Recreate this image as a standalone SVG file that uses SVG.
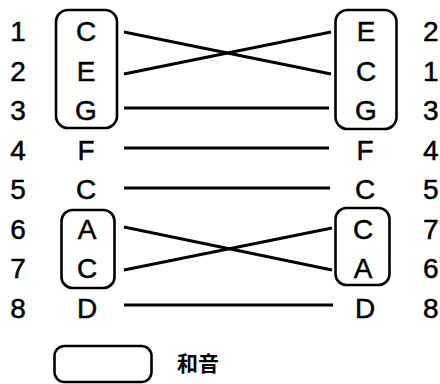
<svg xmlns="http://www.w3.org/2000/svg" width="440" height="384" viewBox="0 0 440 384">
  <style>
    .note { font-family: "Liberation Sans", Arial, sans-serif; font-size: 28px; fill: #000; stroke: #000; stroke-width: 0.5; text-anchor: middle; }
    .num { font-family: "Liberation Sans", Arial, sans-serif; font-size: 28px; fill: #000; stroke: #000; stroke-width: 0.5; }
    .chord { fill: none; stroke: #000; stroke-width: 2.6; }
    .link { stroke: #000; stroke-width: 3; stroke-linecap: butt; fill: none; }
    .legend { font-family: "Noto Sans CJK JP", "Noto Sans CJK SC", sans-serif; font-size: 21px; font-weight: bold; fill: #000; }
  </style>
  <rect width="440" height="384" fill="#fff"/>

  <!-- position numbers, left side -->
  <g id="numbers-left" class="num" text-anchor="middle">
    <text x="18" y="41">1</text>
    <text x="18" y="80.5">2</text>
    <text x="18" y="120">3</text>
    <text x="18" y="159.5">4</text>
    <text x="18" y="199">5</text>
    <text x="18" y="238.5">6</text>
    <text x="18" y="278">7</text>
    <text x="18" y="317.5">8</text>
  </g>

  <!-- position numbers, right side -->
  <g id="numbers-right" class="num">
    <text x="423" y="41">2</text>
    <text x="423" y="80.5">1</text>
    <text x="423" y="120">3</text>
    <text x="423" y="159.5">4</text>
    <text x="423" y="199">5</text>
    <text x="423" y="238.5">7</text>
    <text x="423" y="278">6</text>
    <text x="423" y="317.5">8</text>
  </g>

  <!-- left column -->
  <g id="left-chord-ceg">
    <rect class="chord" x="56" y="10" width="61" height="118" rx="12"/>
    <text class="note" x="86" y="41">C</text>
    <text class="note" x="86" y="80.5">E</text>
    <text class="note" x="86" y="120">G</text>
  </g>
  <g id="left-f"><text class="note" x="86" y="159.5">F</text></g>
  <g id="left-c"><text class="note" x="86" y="199">C</text></g>
  <g id="left-chord-ac">
    <rect class="chord" x="61.5" y="210" width="53" height="78" rx="11"/>
    <text class="note" x="87" y="238.5">A</text>
    <text class="note" x="87" y="278">C</text>
  </g>
  <g id="left-d"><text class="note" x="87" y="317.5">D</text></g>

  <!-- right column -->
  <g id="right-chord-ecg">
    <rect class="chord" x="335.5" y="10" width="61" height="119" rx="12"/>
    <text class="note" x="366" y="41">E</text>
    <text class="note" x="366" y="80.5">C</text>
    <text class="note" x="366" y="120">G</text>
  </g>
  <g id="right-f"><text class="note" x="365" y="159.5">F</text></g>
  <g id="right-c"><text class="note" x="365" y="199">C</text></g>
  <g id="right-chord-ca">
    <rect class="chord" x="335.5" y="208" width="54" height="77" rx="11"/>
    <text class="note" x="363" y="238.5">C</text>
    <text class="note" x="363" y="278">A</text>
  </g>
  <g id="right-d"><text class="note" x="365" y="317.5">D</text></g>

  <!-- connectors between the two orderings -->
  <g id="connectors" class="link">
    <line x1="124" y1="32" x2="331" y2="74"/>
    <line x1="124" y1="74" x2="331" y2="32"/>
    <line x1="124" y1="108" x2="329" y2="108"/>
    <line x1="124" y1="148" x2="329" y2="148"/>
    <line x1="124" y1="188" x2="330" y2="188"/>
    <line x1="124" y1="227" x2="332" y2="270"/>
    <line x1="124" y1="270" x2="332" y2="228"/>
    <line x1="124" y1="305" x2="333" y2="305"/>
  </g>

  <!-- legend -->
  <g id="legend">
    <rect class="chord" x="54.5" y="346" width="97" height="36" rx="10"/>
    <text class="legend" x="177" y="371">和音</text>
  </g>
</svg>
